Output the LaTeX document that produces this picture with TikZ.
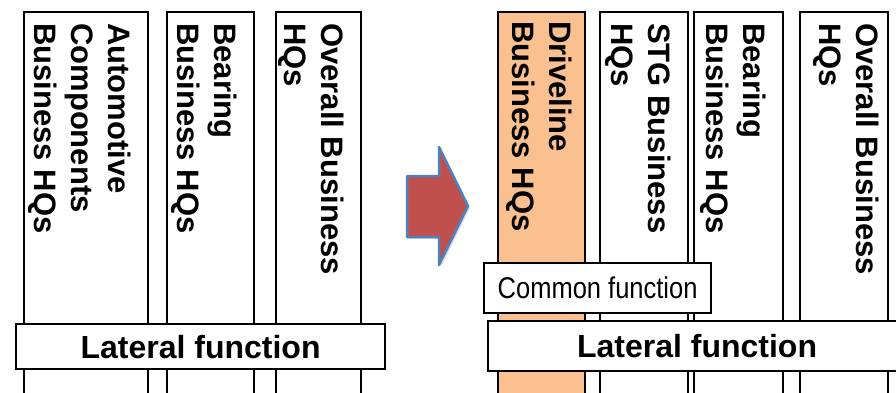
\documentclass[tikz,border=0pt]{standalone}
\usepackage{fontspec}
\setmainfont{Liberation Sans}
\newfontfamily\narrowfont[FakeStretch=0.85]{Liberation Sans}
\usetikzlibrary{calc,shadows}

\definecolor{drvorange}{HTML}{FAC090}
\definecolor{arrowred}{HTML}{C0504D}
\definecolor{arrowblue}{HTML}{4F81BD}

\tikzset{
	colbox/.style={draw, line width=2.2pt, inner sep=0pt, anchor=north west, minimum height=400},
	hqtext/.style={rotate=-90, anchor=north west, inner sep=0pt, align=left, font=\fontsize{31}{37}\selectfont\bfseries},
	funcbox/.style={draw, line width=2.2pt, fill=white, inner sep=0pt, anchor=north west},
	bigarrow/.style={fill=arrowred, draw=arrowblue, line width=2.5pt, line join=round,
		drop shadow={opacity=0.25, shadow xshift=2pt, shadow yshift=-2pt}},
}

\begin{document}
\begin{tikzpicture}[x=1pt, y=-1pt]
			\useasboundingbox (0,0) rectangle (896,392);
			\clip (0,0) rectangle (896,392);
			
			% columns: before and after
			\foreach \n/\xa/\xb/\fc in {a1/23/147/white, a2/166/253/white, a3/275/360/white,
				b1/497/584/drvorange, b2/599/687/white, b3/693/782/white, b4/799/887/white} {
				\node[colbox, fill=\fc, minimum width=\xb-\xa] (\n) at (\xa,11) {};
			}
			
			\node[hqtext] (a1t) at ([xshift=-18pt,yshift=-12pt]a1.north east) {Automotive\\Components\\Business HQs};
			\node[hqtext] (a2t) at ([xshift=-18pt,yshift=-12pt]a2.north east) {Bearing\\Business HQs};
			\node[hqtext] (a3t) at ([xshift=-18pt,yshift=-12pt]a3.north east) {Overall Business\\HQs};
			
			\node[hqtext] (b1t) at ([xshift=-14pt,yshift=-10pt]b1.north east) {Driveline\\Business HQs};
			\node[hqtext] (b2t) at ([xshift=-18pt,yshift=-12pt]b2.north east) {STG Business\\HQs};
			\node[hqtext] (b3t) at ([xshift=-18pt,yshift=-12pt]b3.north east) {Bearing\\Business HQs};
			\node[hqtext] (b4t) at ([xshift=-10pt,yshift=-12pt]b4.north east) {Overall Business\\HQs};
			
			% cross functions
			\node[funcbox, minimum width=369, minimum height=45, font=\fontsize{32}{32}\selectfont\bfseries] (latA) at (15,323) {Lateral function};
			\node[funcbox, minimum width=418, minimum height=50, font=\fontsize{32}{32}\selectfont\bfseries] (latB) at (487,320) {Lateral function};
			\node[funcbox, minimum width=227, minimum height=50, font=\narrowfont\fontsize{30}{30}\selectfont] (comm) at (483,262) {Common function};
			
			% arrow
			\coordinate (tip) at (468,206);
			\draw[bigarrow] (407,176) -- (439,176) -- (439,147) -- (tip) -- (439,265) -- (439,237) -- (407,237) -- cycle;
		\end{tikzpicture}
\end{document}
